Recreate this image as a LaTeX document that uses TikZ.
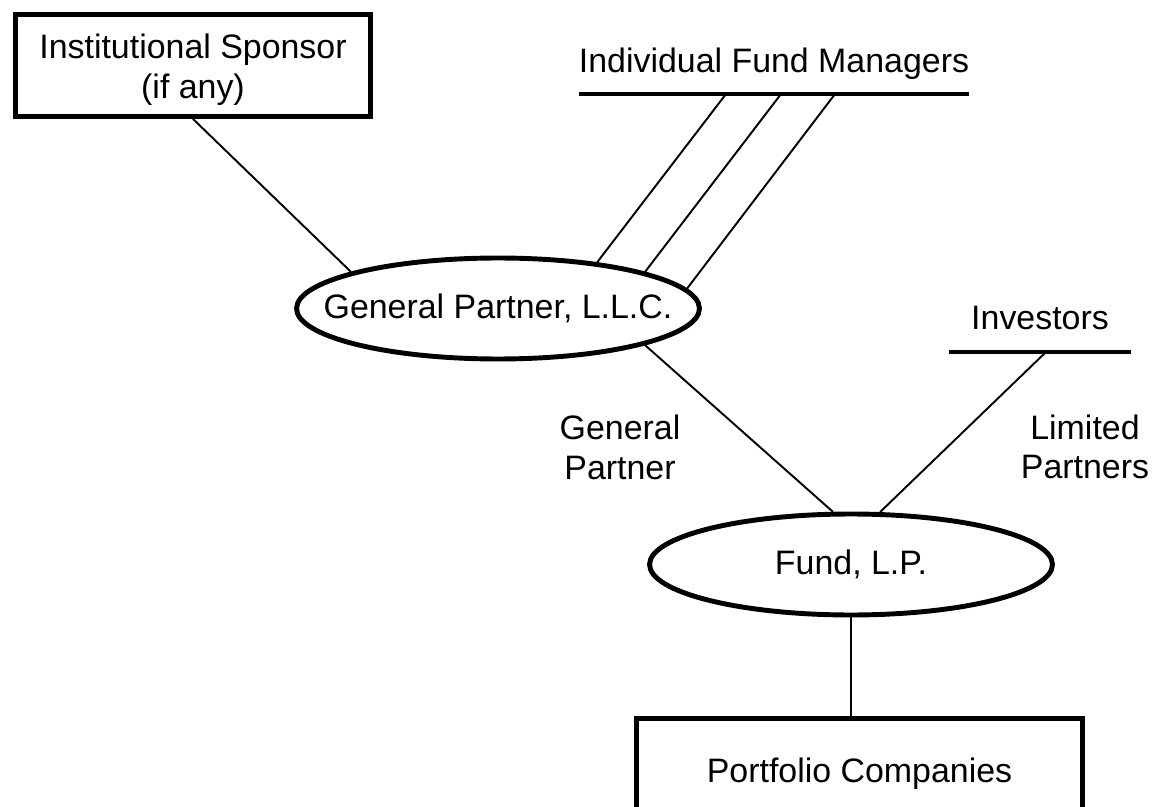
\documentclass[tikz,border=0pt]{standalone}
\usepackage{fontspec}
\setmainfont{Liberation Sans}
\usetikzlibrary{shapes.geometric}

\begin{document}
\begin{tikzpicture}[
  x=0.02cm, y=-0.02cm,
  every node/.style={font=\fontsize{19.3}{22.6}\selectfont, inner sep=0pt},
  entitybox/.style={draw, rectangle, line width=2.8pt},
  entityoval/.style={draw, ellipse, line width=2.8pt, minimum width=8.06cm, minimum height=2.02cm},
  groupbar/.style={line width=2.8pt},
  link/.style={line width=1.1pt}
]
  % page frame
  \fill[white] (0,0) rectangle (1159,807);
  \useasboundingbox (0,0) rectangle (1159,807);
  \clip (0,0) rectangle (1159,807);

  % entities
  \node[entitybox, minimum width=7.1cm, minimum height=2.04cm, align=center]
    (sponsor) at (193,65.5) {\rule{0pt}{18.6pt}Institutional Sponsor\\(if any)};
  \node[entityoval] (gp) at (498,308.5) {\makebox[0pt]{General Partner, L.L.C.}};
  \node[entityoval] (fund) at (851,564.5) {\makebox[0pt]{Fund, L.P.}};
  \node[entitybox, minimum width=8.92cm, minimum height=2.22cm]
    (port) at (859.5,774) {Portfolio Companies};

  % individual fund managers group
  \node[anchor=base] (ifm) at (774,73) {Individual Fund Managers};
  \coordinate (ifmL) at (579,94);
  \coordinate (ifmR) at (969,94);
  \draw[groupbar] (ifmL) -- (ifmR);
  \coordinate (m1) at (726,94);
  \coordinate (m2) at (781,94);
  \coordinate (m3) at (835,94);

  % investors group
  \node[anchor=base] (inv) at (1040,330) {Investors};
  \coordinate (invL) at (949,352);
  \coordinate (invR) at (1131,352);
  \draw[groupbar] (invL) -- (invR);
  \coordinate (i1) at (1046,352);

  % role labels
  \node[align=center] (gplabel) at (620,447.5) {General\\Partner};
  \node[align=center] (lplabel) at (1085,447) {Limited\\Partners};

  % connectors
  \draw[link] (sponsor.south) -- (gp.166);
  \draw[link] (m1) -- (gp.25);
  \draw[link] (m2) -- (gp.14);
  \draw[link] (m3) -- (gp.6);
  \draw[link] (gp.-14) -- (fund.109);
  \draw[link] (i1) -- (fund.61);
  \draw[link] (fund.south) -- (fund.south |- port.north);
\end{tikzpicture}
\end{document}
